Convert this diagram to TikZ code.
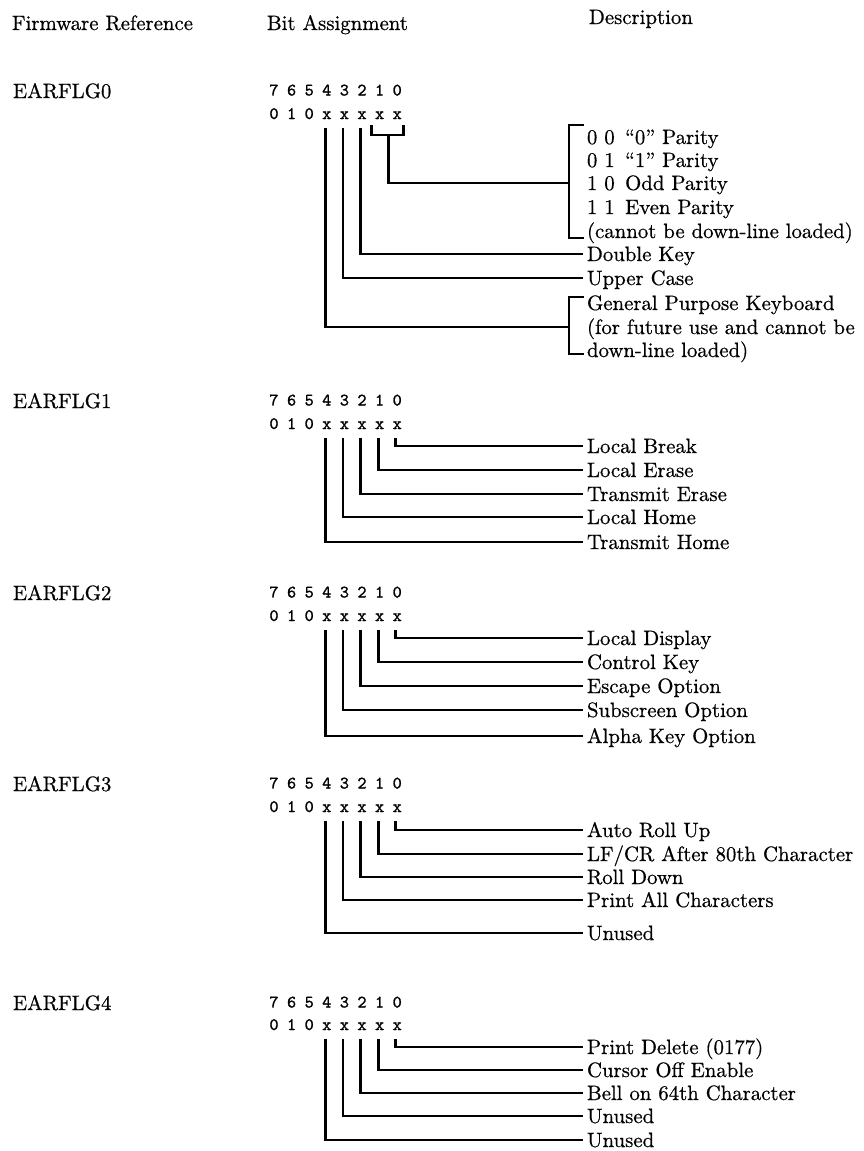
\documentclass[tikz,border=0pt]{standalone}
\usepackage{fontspec}
\newfontfamily\reffont{lmroman10-regular.otf}[FakeBold=0.6,Ligatures=TeX]
\newfontfamily\bitfont{lmmono10-regular.otf}[FakeBold=1.2]
\newcommand\bitgroup[4]{%
  \node[txt, anchor=base west] (#1lab) at (13,#3+2.5) {#2};
  \foreach \bb [count=\k from 0] in {7,6,5,4,3,2,1,0} {
    \node[bitc] (#1d\bb) at (274+\k*17.6,#3) {\bb};
  }
  \foreach \cc/\bb [count=\k from 0] in {0/7,1/6,0/5,x/4,x/3,x/2,x/1,x/0} {
    \node[bitc] (#1x\bb) at (274+\k*17.6,#4) {\cc};
  }
}
\begin{document}
\begin{tikzpicture}[x=1pt,y=-1pt,
  txt/.style={font=\reffont\fontsize{20.8}{25}\selectfont, inner sep=0pt, outer sep=0pt},
  desc/.style={txt, anchor=west, text height=14pt, text depth=0pt, inner xsep=4pt, inner ysep=0pt},
  bitc/.style={font=\bitfont\fontsize{17.5}{20}\selectfont, inner sep=0pt, outer sep=0pt, anchor=base},
  wire/.style={line width=2.8pt, line cap=butt, line join=miter}]
\useasboundingbox (0,0) rectangle (864,1151);

% headers
\node[txt, anchor=base west] (hfw) at (12,30) {Firmware Reference};
\node[txt, anchor=base west] (hbit) at (267,30) {Bit Assignment};
\node[txt, anchor=base west] (hdesc) at (589,24) {Description};

% ---------- EARFLG0
\bitgroup{g0}{EARFLG0}{95.5}{119}
\node[desc] (p0) at (583,137) {0 0\enspace “0” Parity};
\node[desc] (p1) at (583,160) {0 1\enspace “1” Parity};
\node[desc] (p2) at (583,183) {1 0\enspace Odd Parity};
\node[desc] (p3) at (583,207) {1 1\enspace Even Parity};
\node[desc] (p4) at (583,231) {(cannot be down-line loaded)};
\node[desc] (dk) at (583,254) {Double Key};
\node[desc] (uc) at (583,278) {Upper Case};
\node[desc] (gp0) at (583,303) {General Purpose Keyboard};
\node[desc] (gp1) at (583,327) {(for future use and cannot be};
\node[desc] (gp2) at (583,350) {down-line loaded)};
\coordinate (pbr) at (569,183);
\coordinate (gpbr) at (569,327);
\draw[wire] (584,125) -- (569,125) -- (569,238) -- (584,238);
\draw[wire] (584,297) -- (569,297) -- (569,354) -- (584,354);
\draw[wire] ([xshift=-8pt,yshift=-6pt]g0x1.base) -- ++(0,10) -| ([xshift=6pt,yshift=-6pt]g0x0.base);
\draw[wire] ([xshift=8.8pt,yshift=-16pt]g0x1.base) |- (pbr);
\draw[wire] ([xshift=-1.5pt,yshift=-9pt]g0x2.base) |- (dk.west);
\draw[wire] ([xshift=-1.5pt,yshift=-9pt]g0x3.base) |- (uc.west);
\draw[wire] ([xshift=-1.5pt,yshift=-9pt]g0x4.base) |- (gpbr);

% ---------- EARFLG1
\bitgroup{g1}{EARFLG1}{405.5}{429}
\node[desc] (g1r0) at (583,446) {Local Break};
\node[desc] (g1r1) at (583,470) {Local Erase};
\node[desc] (g1r2) at (583,494) {Transmit Erase};
\node[desc] (g1r3) at (583,517) {Local Home};
\node[desc] (g1r4) at (583,542) {Transmit Home};
\foreach \i in {0,...,4} {
  \draw[wire] ([xshift=-1.5pt,yshift=-9pt]g1x\i.base) |- (g1r\i.west);
}

% ---------- EARFLG2
\bitgroup{g2}{EARFLG2}{597.5}{621}
\node[desc] (g2r0) at (583,638) {Local Display};
\node[desc] (g2r1) at (583,662) {Control Key};
\node[desc] (g2r2) at (583,686) {Escape Option};
\node[desc] (g2r3) at (583,710) {Subscreen Option};
\node[desc] (g2r4) at (583,736) {Alpha Key Option};
\foreach \i in {0,...,4} {
  \draw[wire] ([xshift=-1.5pt,yshift=-9pt]g2x\i.base) |- (g2r\i.west);
}

% ---------- EARFLG3
\bitgroup{g3}{EARFLG3}{788.5}{812}
\node[desc] (g3r0) at (583,830) {Auto Roll Up};
\node[desc] (g3r1) at (583,854) {LF/CR After 80th Character};
\node[desc] (g3r2) at (583,877) {Roll Down};
\node[desc] (g3r3) at (583,900) {Print All Characters};
\node[desc] (g3r4) at (583,933) {Unused};
\foreach \i in {0,...,4} {
  \draw[wire] ([xshift=-1.5pt,yshift=-9pt]g3x\i.base) |- (g3r\i.west);
}

% ---------- EARFLG4
\bitgroup{g4}{EARFLG4}{1007.5}{1030}
\node[desc] (g4r0) at (583,1047) {Print Delete (0177)};
\node[desc] (g4r1) at (583,1070) {Cursor Off Enable};
\node[desc] (g4r2) at (583,1093) {Bell on 64th Character};
\node[desc] (g4r3) at (583,1116) {Unused};
\node[desc] (g4r4) at (583,1140) {Unused};
\foreach \i in {0,...,4} {
  \draw[wire] ([xshift=-1.5pt,yshift=-9pt]g4x\i.base) |- (g4r\i.west);
}
\end{tikzpicture}
\end{document}
